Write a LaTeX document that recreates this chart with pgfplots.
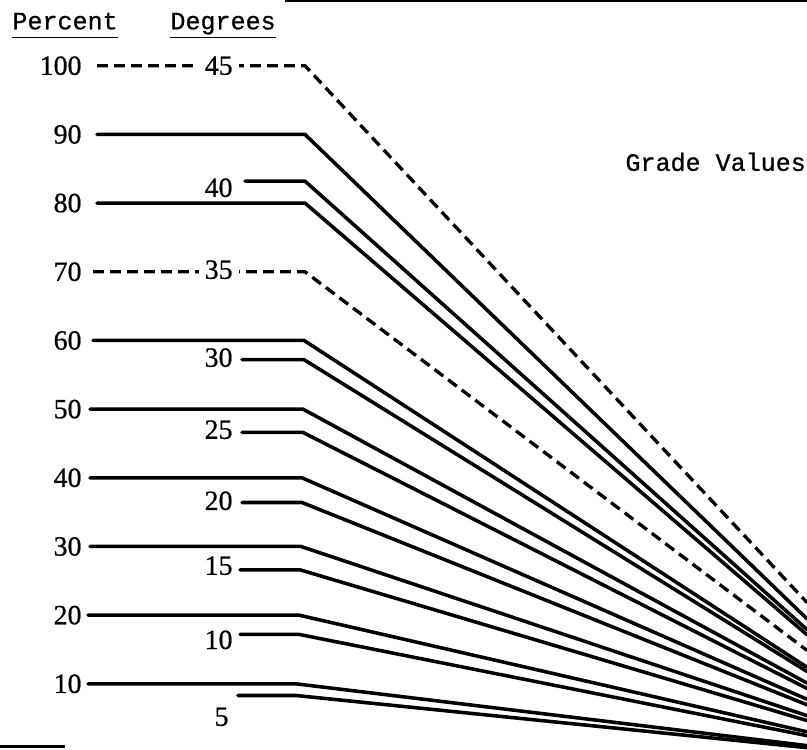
\documentclass[border=0pt]{standalone}
\usepackage{pgfplots}
\pgfplotsset{compat=1.18}
\usepackage{fontspec}
\setmainfont[FakeBold=0.6,AutoFakeBold=0.6]{Liberation Serif}
\newfontfamily\mono[FakeBold=0.7]{Liberation Mono}
\tikzset{
  ln/.style={black, line width=1.5pt, line join=round, line cap=round},
  dl/.style={black, line width=1.4pt, line join=round, dash pattern=on 4.6pt off 2.6pt},
  num/.style={anchor=east, inner sep=0pt, font=\bfseries\fontsize{11.8}{13}\selectfont},
  hdr/.style={anchor=base west, inner sep=0pt, font=\mono\fontsize{10.6}{12}\selectfont}
}
\begin{document}
\begin{tikzpicture}
\begin{axis}[x=0.4233pt, y=2.907pt, xmin=0, xmax=807, ymin=0.5, ymax=110.01,
  axis lines=none, clip=true]
% scan border remnants
\addplot[black, line width=1pt] coordinates {(285,109.4) (807,109.4)};
\addplot[black, line width=1pt] coordinates {(0,0.85) (65,0.85)};
% percent and degree lines: (start, bend, right edge)
\addplot[dl] coordinates {(97,100) (305,100) (807,21.83)};
\addplot[ln] coordinates {(97,90) (305,90) (807,19.47)};
\addplot[ln] coordinates {(245,83.2) (305,83.2) (807,17.9)};
\addplot[ln] coordinates {(97,80) (305,80) (807,17.14)};
\addplot[dl] coordinates {(93,70) (305,70) (807,14.87)};
\addplot[ln] coordinates {(93,60) (304,60) (807,12.42)};
\addplot[ln] coordinates {(242,57.2) (304,57.2) (807,11.8)};
\addplot[ln] coordinates {(90,50) (303,50) (807,10.11)};
\addplot[ln] coordinates {(242,46.6) (303,46.6) (807,9.33)};
\addplot[ln] coordinates {(90,40) (302,40) (807,7.75)};
\addplot[ln] coordinates {(242,36.4) (302,36.4) (807,6.95)};
\addplot[ln] coordinates {(90,30) (301,30) (807,5.36)};
\addplot[ln] coordinates {(240,26.6) (300,26.6) (807,4.65)};
\addplot[ln] coordinates {(88,20) (299,20) (807,3.01)};
\addplot[ln] coordinates {(240,17.2) (299,17.2) (807,2.45)};
\addplot[ln] coordinates {(88,10) (296,10) (807,1.0)};
\addplot[ln] coordinates {(238,8.3) (296,8.3) (807,0.7)};
% percent labels
\node[num] at (axis cs:82,100) {100};
\node[num] at (axis cs:82,90) {90};
\node[num] at (axis cs:82,80) {80};
\node[num] at (axis cs:82,70) {70};
\node[num] at (axis cs:82,60) {60};
\node[num] at (axis cs:82,50) {50};
\node[num] at (axis cs:82,40) {40};
\node[num] at (axis cs:82,30) {30};
\node[num] at (axis cs:82,20) {20};
\node[num] at (axis cs:82,10) {10};
% degree labels
\node[num, fill=white, inner xsep=2.5pt, inner ysep=1pt] at (axis cs:239,100) {45};
\node[num, fill=white, inner xsep=2.5pt, inner ysep=1pt] at (axis cs:239,70.3) {35};
\node[num] at (axis cs:233,82.23) {40};
\node[num] at (axis cs:233,57.5) {30};
\node[num] at (axis cs:233,47.0) {25};
\node[num] at (axis cs:233,36.65) {20};
\node[num] at (axis cs:233,27.2) {15};
\node[num] at (axis cs:233,16.4) {10};
\node[num] at (axis cs:229,5.2) {5};
% headers
\node[hdr] at (axis cs:12,105.3) {\underline{Percent\vphantom{g}}};
\node[hdr] at (axis cs:170,105.3) {\underline{Degrees}};
\node[hdr] at (axis cs:625,84.7) {Grade Values};
\end{axis}
\end{tikzpicture}
\end{document}
